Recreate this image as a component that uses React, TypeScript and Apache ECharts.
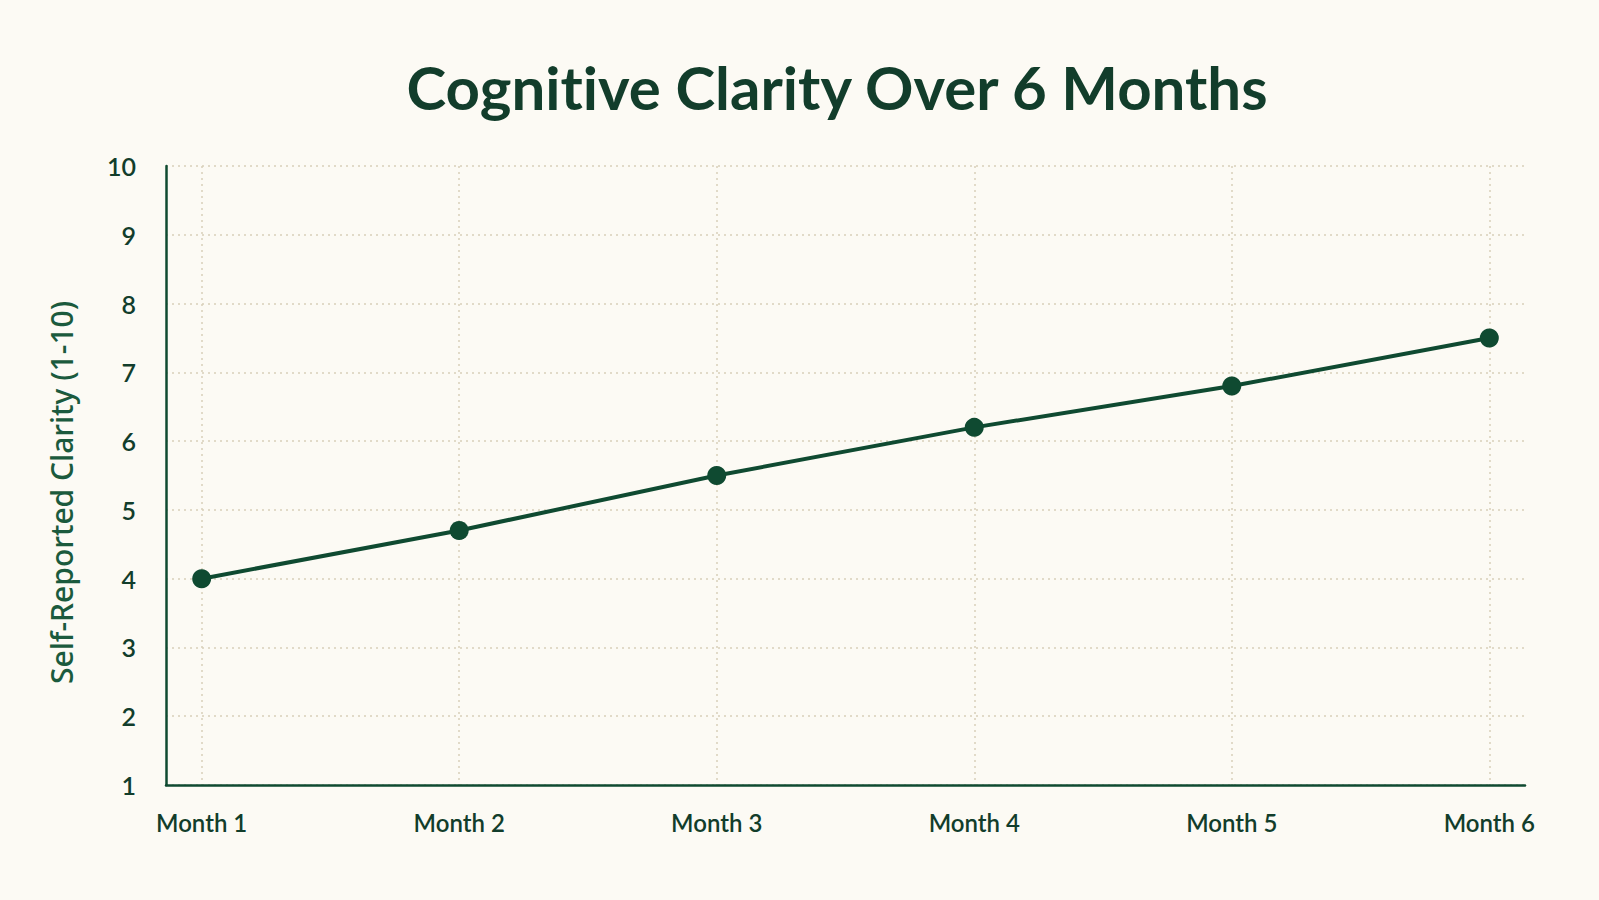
import React, { useEffect, useRef } from 'react';
import * as echarts from 'echarts';

const months = ['Month 1', 'Month 2', 'Month 3', 'Month 4', 'Month 5', 'Month 6'];
const clarity = [4.0, 4.7, 5.5, 6.2, 6.8, 7.5];
const yTicks = [1, 2, 3, 4, 5, 6, 7, 8, 9, 10];
const monthSlots = [1, 2, 3, 4, 5, 6];

const GREEN = '#0f4a31';
const TEXT = '#123d2b';
const GRID = '#d8cfb9';

const App: React.FC = () => {
  const chartRef = useRef<HTMLDivElement>(null);

  useEffect(() => {
    document.body.style.margin = '0';
    if (!chartRef.current) return;
    const chart = echarts.init(chartRef.current, null, { renderer: 'svg' });

    const option: echarts.EChartsOption = {
      animation: false,
      backgroundColor: '#fcfaf4',
      title: {
        text: 'Cognitive Clarity Over 6 Months',
        left: 837,
        textAlign: 'center',
        top: 57,
        padding: 0,
        textStyle: {
          color: TEXT,
          fontFamily: 'Lato',
          fontWeight: 'bold',
          fontSize: 60
        }
      },
      grid: { left: 166, right: 74, top: 166, bottom: 115 },
      xAxis: {
        type: 'value',
        min: 0.8615,
        max: 6.1385,
        axisLine: { show: true, onZero: false, lineStyle: { color: GREEN, width: 2.5 } },
        axisTick: { show: false, customValues: monthSlots },
        axisLabel: {
          customValues: monthSlots,
          formatter: (v: number) => months[Math.round(v) - 1] ?? '',
          color: TEXT,
          fontFamily: 'Lato',
          fontWeight: 600,
          fontSize: 24,
          margin: 25
        },
        splitLine: {
          show: true,
          lineStyle: { color: GRID, type: [2, 4], width: 1.5 }
        }
      },
      yAxis: {
        type: 'value',
        min: 1,
        max: 10,
        interval: 1,
        name: 'Self-Reported Clarity (1-10)',
        nameLocation: 'middle',
        nameGap: 90,
        nameTextStyle: {
          color: '#1b5a3d',
          fontFamily: 'Noto Sans',
          fontWeight: 500,
          fontSize: 30,
          padding: [0, 34, 0, 0]
        },
        axisLine: { show: true, lineStyle: { color: GREEN, width: 2.5 } },
        axisTick: { show: false },
        axisLabel: {
          customValues: yTicks,
          color: TEXT,
          fontFamily: 'Lato',
          fontWeight: 600,
          fontSize: 25,
          margin: 30
        },
        splitLine: {
          show: true,
          lineStyle: { color: GRID, type: [2, 4], width: 1.5 }
        }
      },
      series: [
        {
          type: 'line',
          data: clarity.map((v, i) => [i + 1, v]),
          symbol: 'circle',
          symbolSize: 19,
          lineStyle: { color: GREEN, width: 4 },
          itemStyle: { color: GREEN }
        }
      ]
    };

    chart.setOption(option);
    return () => chart.dispose();
  }, []);

  return (
    <>
      <style>{'svg text { font-variant-ligatures: none !important; }'}</style>
      <div ref={chartRef} style={{ width: '1599px', height: '900px' }} />
    </>
  );
};

export default App;
